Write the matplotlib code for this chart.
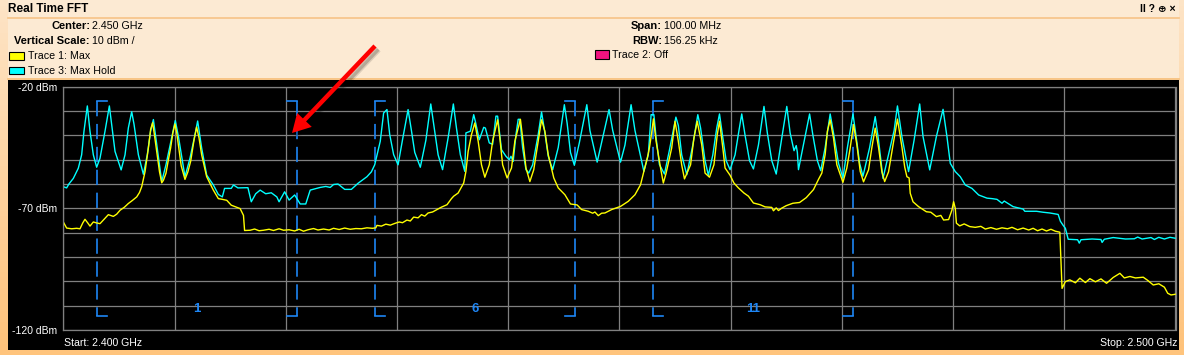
import numpy as np
import matplotlib
matplotlib.use("Agg")
import matplotlib.pyplot as plt
from matplotlib.patches import Rectangle, FancyArrowPatch, ArrowStyle
from matplotlib.colors import LinearSegmentedColormap

plt.rcParams['font.family'] = ['Liberation Sans', 'DejaVu Sans']
plt.rcParams['lines.scale_dashes'] = False

# ---- data (MHz above 2.400 GHz, dBm) ----
start_mhz = 2400
stop_mhz = 2500

# Trace 1: Max (yellow)
trace1_freq = [0.0, 0.3, 0.75, 1.2, 1.5, 1.75, 1.95, 2.2, 2.4, 2.7, 3.0, 3.3, 3.6, 4.05, 4.5,
               4.8, 5.1, 5.5, 5.85, 6.2, 6.6, 6.85, 7.05, 7.35, 7.65, 7.85, 8.03, 8.2, 8.4, 8.65,
               8.85, 9.0, 9.23, 9.45, 9.65, 9.85, 10.04, 10.2, 10.34, 10.6, 10.94, 11.2, 11.45,
               11.75, 11.99, 12.2, 12.44, 12.89, 13.49, 13.94, 14.3, 14.7, 15.1, 15.9, 16.2, 16.3,
               16.8, 17.2, 17.6, 18.0, 18.5, 18.9, 19.4, 19.8, 20.3, 20.8, 21.2, 21.6, 22.0, 22.5,
               22.9, 23.4, 23.9, 24.3, 24.8, 25.3, 25.8, 26.3, 26.8, 27.3, 27.8, 28.1, 28.2, 28.6,
               29.0, 29.4, 29.8, 30.2, 30.5, 30.9, 31.2, 31.5, 31.9, 32.2, 32.5, 32.8, 33.2, 33.6,
               34.0, 34.5, 34.9, 35.1, 35.5, 36.0, 36.2, 36.4, 36.7, 37.0, 37.3, 37.6, 37.9, 38.3,
               38.6, 39.05, 39.25, 39.5, 39.9, 40.3, 40.6, 41.1, 41.3, 41.6, 41.95, 42.3, 42.7,
               43.0, 43.3, 43.6, 44.1, 44.5, 45.1, 45.6, 46.2, 46.6, 47.2, 47.6, 47.8, 48.1, 48.4,
               48.7, 49.3, 50.1, 50.8, 51.4, 51.9, 52.2, 52.5, 52.7, 52.9, 53.06, 53.3, 53.7,
               53.95, 54.2, 54.7, 55.0, 55.3, 55.6, 55.85, 56.4, 56.7, 57.0, 57.4, 57.7, 58.1,
               58.5, 58.8, 59.0, 59.3, 59.5, 59.95, 60.3, 60.7, 61.2, 61.6, 62.05, 62.65, 63.1,
               63.7, 63.85, 64.1, 64.3, 64.6, 65.0, 65.6, 66.2, 66.8, 67.45, 67.9, 68.2, 68.5,
               68.7, 68.95, 69.25, 69.55, 69.85, 70.1, 70.45, 70.75, 71.05, 71.35, 71.65, 71.95,
               72.4, 72.7, 73.0, 73.3, 73.6, 73.85, 74.2, 74.6, 75.0, 75.4, 75.65, 75.85, 76.05,
               76.15, 76.4, 76.9, 77.6, 78.0, 78.5, 78.9, 79.15, 79.6, 79.9, 80.05, 80.2, 80.3,
               80.6, 81.0, 81.5, 82.0, 82.5, 82.9, 83.4, 83.9, 84.4, 84.9, 85.3, 85.8, 86.3, 86.8,
               87.2, 87.6, 88.0, 88.4, 88.8, 89.2, 89.6, 89.8, 90.1, 90.5, 91.0, 91.4, 91.9, 92.3,
               92.8, 93.3, 93.8, 94.4, 95.0, 95.4, 95.9, 96.4, 97.1, 97.5, 98.0, 98.5, 99.0, 99.3,
               99.6, 100.0]
trace1_dbm = [-75.6, -78.1, -78.4, -78.2, -78.4, -76.0, -74.5, -76.0, -77.3, -75.6, -76.0, -76.3,
              -74.8, -72.6, -73.3, -72.4, -70.8, -69.5, -68.0, -66.8, -65.3, -63.5, -61.1, -54.9,
              -45.2, -37.6, -34.8, -40.0, -46.6, -55.0, -59.5, -58.5, -55.6, -50.0, -45.2, -39.0,
              -35.3, -39.0, -43.8, -52.5, -58.1, -55.0, -50.7, -42.0, -36.6, -41.0, -48.0, -57.0,
              -62.5, -66.0, -66.3, -66.7, -68.7, -70.1, -72.9, -79.1, -79.0, -78.5, -79.2, -79.0,
              -78.6, -79.1, -78.4, -79.0, -78.8, -79.3, -78.6, -79.4, -78.8, -78.3, -78.9, -78.5,
              -78.9, -78.2, -78.7, -78.1, -78.6, -78.3, -78.4, -78.0, -78.2, -78.0, -77.0, -77.3,
              -76.5, -76.9, -76.2, -75.6, -75.9, -74.8, -75.2, -73.6, -73.9, -72.6, -73.2, -71.9,
              -71.5, -70.5, -69.5, -68.5, -66.0, -65.0, -63.7, -59.6, -54.8, -46.6, -39.7, -34.9,
              -42.4, -52.1, -57.2, -52.1, -42.4, -33.6, -41.1, -52.1, -57.5, -53.4, -42.4, -33.4,
              -41.1, -53.4, -59.0, -54.1, -42.4, -33.6, -38.3, -47.9, -57.5, -61.6, -64.4, -68.2,
              -68.6, -70.5, -71.2, -72.0, -71.5, -73.0, -72.0, -71.9, -70.5, -69.2, -67.1, -64.4,
              -60.3, -54.8, -49.5, -45.2, -39.0, -33.2, -42.4, -53.4, -59.6, -55.5, -45.2, -34.2,
              -42.4, -52.1, -57.9, -52.1, -41.1, -34.2, -43.8, -55.5, -57.2, -52.1, -39.7, -34.2,
              -45.2, -53.4, -56.4, -59.6, -61.6, -63.7, -65.0, -67.8, -68.5, -69.4, -69.6, -71.0,
              -69.8, -70.9, -69.9, -68.9, -67.9, -67.6, -65.6, -62.3, -58.1, -55.5, -47.9, -38.3,
              -33.6, -41.1, -52.1, -56.1, -59.3, -53.4, -45.2, -35.6, -43.8, -54.8, -59.1, -54.2,
              -45.0, -37.0, -45.0, -55.0, -59.0, -55.0, -44.0, -33.3, -44.7, -53.0, -57.0, -57.5,
              -63.8, -67.3, -69.3, -71.4, -71.6, -73.4, -72.9, -74.8, -74.6, -70.7, -67.3, -70.0,
              -76.1, -77.2, -76.4, -77.5, -77.8, -77.4, -78.5, -77.9, -78.6, -78.0, -78.4, -77.8,
              -78.8, -78.1, -78.9, -78.2, -79.2, -78.5, -79.3, -78.6, -79.4, -79.8, -102.9,
              -100.1, -99.4, -100.6, -98.7, -100.5, -98.9, -100.2, -99.0, -100.8, -98.4, -96.7,
              -98.6, -98.0, -98.6, -98.3, -99.6, -101.5, -101.0, -102.4, -104.9, -105.6, -105.3]

# Trace 3: Max Hold (cyan)
trace3_freq = [0.0, 0.3, 0.5, 0.9, 1.35, 1.65, 1.86, 2.16, 2.4, 2.7, 3.0, 3.3, 3.75, 4.14, 4.35,
               4.65, 5.2, 5.55, 5.85, 6.15, 6.36, 6.75, 7.2, 7.55, 7.85, 8.1, 8.4, 8.85, 9.23,
               9.74, 10.07, 10.37, 10.94, 11.39, 11.84, 12.08, 12.44, 12.89, 13.49, 13.94, 14.3,
               14.5, 15.1, 15.3, 15.7, 16.6, 16.9, 17.3, 17.7, 18.2, 18.7, 19.2, 19.4, 19.9, 20.3,
               20.8, 21.3, 21.8, 22.2, 23.1, 23.6, 24.0, 24.3, 24.7, 25.3, 25.9, 26.5, 27.3, 27.7,
               28.0, 28.5, 28.8, 29.1, 29.35, 29.7, 30.1, 30.5, 31.0, 31.3, 31.6, 32.1, 32.6,
               33.04, 33.35, 33.7, 34.1, 34.6, 35.07, 35.35, 35.7, 36.1, 36.2, 36.6, 36.9, 37.05,
               37.4, 37.8, 37.95, 38.3, 38.6, 38.9, 39.05, 39.4, 39.8, 40.1, 40.25, 40.45, 40.7,
               40.9, 41.05, 41.3, 41.6, 41.85, 42.2, 42.7, 43.0, 43.3, 43.6, 44.0, 44.5, 44.85,
               45.05, 45.3, 45.6, 45.95, 46.4, 47.07, 47.35, 48.0, 48.5, 49.07, 49.4, 50.1, 50.5,
               51.05, 51.4, 52.2, 52.6, 52.85, 53.1, 53.3, 53.6, 54.05, 54.5, 55.08, 55.3, 55.6,
               56.06, 56.6, 57.05, 57.3, 57.7, 58.0, 58.4, 58.75, 59.0, 59.3, 59.6, 59.95, 60.4,
               60.75, 61.0, 61.3, 61.7, 62.05, 62.5, 63.0, 63.3, 63.7, 64.1, 64.5, 65.05, 65.35,
               65.7, 65.9, 66.0, 66.1, 66.5, 67.1, 67.4, 67.8, 68.1, 68.5, 68.95, 69.25, 69.7,
               70.1, 70.5, 71.0, 71.3, 71.6, 71.9, 72.5, 73.0, 73.3, 73.7, 74.3, 74.7, 75.0, 75.4,
               76.0, 76.5, 77.0, 77.3, 77.9, 78.5, 79.1, 79.45, 79.75, 80.2, 80.65, 81.1, 81.7,
               82.3, 83.05, 83.5, 83.95, 84.4, 84.6, 85.4, 86.3, 86.45, 87.5, 88.1, 88.7, 89.45,
               89.65, 89.9, 90.1, 90.35, 91.2, 91.35, 91.5, 92.5, 93.3, 93.4, 93.6, 94.4, 95.5,
               96.3, 96.6, 97.0, 97.8, 98.1, 98.5, 99.0, 99.5, 100.0]
trace3_dbm = [-61.1, -61.6, -60.0, -57.7, -53.5, -48.0, -38.3, -27.9, -38.3, -48.0, -53.1, -49.4,
              -38.3, -27.9, -35.5, -46.6, -54.2, -48.0, -36.9, -30.3, -35.5, -48.0, -56.0, -48.0,
              -38.3, -33.5, -43.8, -59.0, -52.1, -41.0, -33.9, -41.0, -57.0, -49.4, -39.7, -34.1,
              -45.2, -56.3, -60.4, -64.3, -65.3, -61.8, -61.8, -60.4, -61.6, -61.5, -67.3, -64.0,
              -62.5, -64.0, -63.6, -65.3, -67.3, -63.2, -66.6, -64.5, -68.2, -68.2, -62.5, -61.4,
              -61.0, -61.4, -60.2, -60.0, -62.2, -62.2, -59.7, -57.0, -55.0, -52.1, -42.4, -30.8,
              -29.4, -39.7, -47.9, -52.1, -41.8, -29.4, -38.0, -47.0, -53.1, -42.0, -27.1, -37.0,
              -48.0, -54.1, -41.0, -27.1, -37.0, -48.0, -54.8, -39.0, -38.3, -31.5, -34.3, -41.8,
              -36.7, -37.0, -43.1, -43.7, -32.1, -32.1, -45.9, -48.6, -50.0, -48.6, -50.7, -39.7,
              -33.4, -33.4, -45.2, -54.1, -55.5, -52.1, -39.7, -30.4, -39.0, -48.5, -54.1, -45.0,
              -34.0, -27.4, -35.0, -47.0, -52.3, -43.0, -27.4, -38.0, -51.0, -41.0, -29.4, -38.0,
              -51.0, -44.0, -27.4, -38.0, -54.8, -47.9, -31.5, -31.5, -41.0, -52.0, -55.9, -46.0,
              -32.5, -36.0, -48.0, -56.2, -44.0, -31.5, -37.0, -50.4, -56.4, -48.0, -37.0, -31.2,
              -41.0, -50.4, -54.1, -48.0, -38.0, -31.2, -40.0, -50.4, -53.8, -44.0, -28.1, -39.0,
              -50.4, -55.9, -44.0, -28.1, -39.0, -46.3, -44.2, -47.0, -54.1, -45.0, -31.2, -40.0,
              -50.4, -54.5, -45.0, -31.2, -39.0, -51.5, -57.5, -45.0, -31.2, -41.0, -51.5, -56.8,
              -45.0, -32.3, -42.0, -57.7, -46.0, -38.0, -27.9, -40.5, -54.9, -41.9, -27.1, -40.5,
              -54.2, -40.5, -29.3, -40.5, -51.5, -54.9, -57.0, -60.4, -61.8, -64.5, -65.8, -66.0,
              -66.3, -67.9, -67.0, -69.3, -70.3, -71.2, -71.2, -71.6, -71.9, -72.5, -75.3, -77.0,
              -78.2, -82.7, -82.9, -84.3, -82.9, -82.6, -82.8, -84.0, -82.7, -82.0, -82.6, -82.5,
              -81.8, -82.6, -82.0, -82.8, -81.9, -82.6, -81.9, -82.3]

# Wi-Fi channel markers
channel_numbers = [1, 6, 11]
channel_center_mhz = [2412, 2437, 2462]
channel_half_width = 9

yticks = list(range(-120, -19, 10))
ylabels = ['-120 dBm', '', '', '', '', '-70 dBm', '', '', '', '', '-20 dBm']

# ---- figure geometry in screen pixels ----
W, H = 1184, 355


def fx(px):
    return px / W


def fy(py):
    return 1 - py / H


fig = plt.figure(figsize=(W / 100, H / 100), dpi=100)
fig.patch.set_facecolor('#FCEAD3')

# window frame
orange = LinearSegmentedColormap.from_list('frame', ['#FDE4C6', '#FFC27A'])
for x0, x1 in [(0, 7.5), (1179, 1184)]:
    gax = fig.add_axes([fx(x0), 0, fx(x1 - x0), 1], zorder=-2)
    gax.imshow(np.linspace(0, 1, 64)[:, None], cmap=orange, aspect='auto')
    gax.axis('off')
fig.add_artist(Rectangle((0, 0), 1, (H - 350) / H, transform=fig.transFigure,
                         color='#FFC47C', lw=0, zorder=-1))
fig.add_artist(plt.Line2D([fx(7.5), fx(1179)], [fy(17.5), fy(17.5)], transform=fig.transFigure,
                          color='#F6C387', lw=1.2, zorder=-1))
fig.add_artist(plt.Line2D([fx(7.5), fx(1179)], [fy(78.5), fy(78.5)], transform=fig.transFigure,
                          color='#F7BE78', lw=1.2, zorder=-1))
fig.add_artist(Rectangle((fx(7.5), fy(350)), fx(1179 - 7.5), (350 - 79.5) / H,
                         transform=fig.transFigure, color='black', lw=0, zorder=-1))

# header
fig.text(fx(8), fy(9), 'Real Time FFT', weight='bold', fontsize=8.5, va='center')
fig.text(fx(1176), fy(9), 'II ? \u2295 \u00d7', weight='bold', fontsize=7.5, va='center', ha='right',
         family=['Liberation Sans', 'DejaVu Sans'])
fig.text(fx(90), fy(26), 'Center:', weight='bold', fontsize=8, va='center', ha='right')
fig.text(fx(91.5), fy(26), '2.450 GHz', fontsize=7.7, va='center')
fig.text(fx(90), fy(41), 'Vertical Scale:', weight='bold', fontsize=8, va='center', ha='right')
fig.text(fx(91.5), fy(41), '10 dBm /', fontsize=7.7, va='center')
fig.text(fx(662), fy(26), 'Span:', weight='bold', fontsize=8, va='center', ha='right')
fig.text(fx(663.5), fy(26), '100.00 MHz', fontsize=7.7, va='center')
fig.text(fx(662), fy(41), 'RBW:', weight='bold', fontsize=8, va='center', ha='right')
fig.text(fx(663.5), fy(41), '156.25 kHz', fontsize=7.7, va='center')

legend_items = [((9, 52.3, 15.3, 7.7), '#FFFF00', 'Trace 1: Max', 28.3, 56),
                ((9, 66.7, 15.3, 7.3), '#00FFFF', 'Trace 3: Max Hold', 28.3, 70.5),
                ((595.4, 50.3, 13.6, 8.7), '#F0137F', 'Trace 2: Off', 611.5, 55)]
for (bx, by, bw, bh), col, label, tx, ty in legend_items:
    fig.add_artist(Rectangle((fx(bx), fy(by + bh)), fx(bw), bh / H, transform=fig.transFigure,
                             facecolor=col, edgecolor='black', lw=0.8))
    fig.text(fx(tx), fy(ty), label, fontsize=7.7, va='center')

# spectrum display
ax = fig.add_axes([fx(63.3), fy(330), fx(1175.5 - 63.3), (330 - 86.7) / H])
ax.set_facecolor('black')
ax.set_xlim(start_mhz, stop_mhz)
ax.set_ylim(-120, -20)
ax.set_xticks(np.arange(start_mhz, stop_mhz + 1, 10))
ax.set_yticks(yticks)
ax.set_yticklabels(ylabels)
ax.grid(True, color='#808080', lw=0.9)
ax.set_axisbelow(True)
for s in ax.spines.values():
    s.set_color('#808080')
    s.set_linewidth(0.9)
ax.tick_params(length=0, labelbottom=False, labelcolor='white', labelsize=7.5, pad=4.5)

blue = '#1E86F5'
arm = 0.93
for n, c in zip(channel_numbers, channel_center_mhz):
    lo, hi = c - channel_half_width, c + channel_half_width
    for edge, sgn in [(lo, 1), (hi, -1)]:
        ax.plot([edge, edge], [-26.0, -114.4], color=blue, lw=1.2, dashes=(11, 5.5))
        ax.plot([edge, edge + sgn * arm], [-26.0, -26.0], color=blue, lw=1.2)
        ax.plot([edge, edge + sgn * arm], [-114.4, -114.4], color=blue, lw=1.2)
    ax.text(c, -111.2, str(n), color=blue, weight='bold', fontsize=9.5, ha='center', va='center')

ax.plot(start_mhz + np.array(trace3_freq), trace3_dbm, color='#00FFFF', lw=1.0)
ax.plot(start_mhz + np.array(trace1_freq), trace1_dbm, color='#FFFF00', lw=1.0)

fig.text(fx(64.3), fy(343.5), 'Start: 2.400 GHz', color='white', fontsize=7.6, va='center')
fig.text(fx(1178), fy(343.5), 'Stop: 2.500 GHz', color='white', fontsize=7.6, va='center', ha='right')

# annotation arrow with soft shadow
style = ArrowStyle.Simple(head_length=13, head_width=14.5, tail_width=3.2)
tail, tip = (375, 46), (292, 133)
for off, col in [(4, (0, 0, 0, 0.12)), (3, (0, 0, 0, 0.18)), (0, '#FF0000')]:
    fig.add_artist(FancyArrowPatch((fx(tail[0] + off), fy(tail[1] + off)),
                                   (fx(tip[0] + off), fy(tip[1] + off)),
                                   transform=fig.transFigure, arrowstyle=style, mutation_scale=1,
                                   shrinkA=0, shrinkB=0, color=col, lw=0))

fig.savefig('out.png', dpi=100)
